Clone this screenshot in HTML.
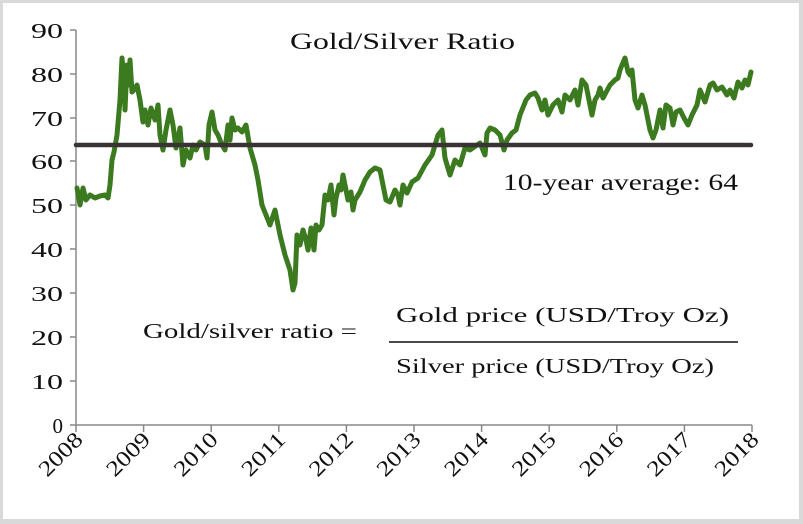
<!DOCTYPE html>
<html><head><meta charset="utf-8"><style>
html,body{margin:0;padding:0;background:#fff;}
svg{display:block;}
text{font-family:"Liberation Serif","DejaVu Serif",serif;fill:#111;}
</style></head><body>
<svg width="803" height="524" viewBox="0 0 803 524" xmlns="http://www.w3.org/2000/svg">
<rect x="0" y="0" width="803" height="524" fill="#d9d9d9"/>
<rect x="3" y="3" width="796" height="516" fill="#fff"/>
<g stroke="#888" stroke-width="1.5" fill="none">
<line x1="76" y1="30" x2="76" y2="425"/>
<line x1="76" y1="425" x2="752" y2="425"/>
<line x1="70" y1="30" x2="76" y2="30"/><line x1="70" y1="74" x2="76" y2="74"/><line x1="70" y1="118" x2="76" y2="118"/>
<line x1="70" y1="161" x2="76" y2="161"/><line x1="70" y1="205" x2="76" y2="205"/><line x1="70" y1="249" x2="76" y2="249"/>
<line x1="70" y1="293" x2="76" y2="293"/><line x1="70" y1="337" x2="76" y2="337"/><line x1="70" y1="381" x2="76" y2="381"/>
<line x1="70" y1="425" x2="76" y2="425"/>
<line x1="76" y1="425" x2="76" y2="432"/><line x1="143.6" y1="425" x2="143.6" y2="432"/><line x1="211.2" y1="425" x2="211.2" y2="432"/>
<line x1="278.8" y1="425" x2="278.8" y2="432"/><line x1="346.4" y1="425" x2="346.4" y2="432"/><line x1="414" y1="425" x2="414" y2="432"/>
<line x1="481.6" y1="425" x2="481.6" y2="432"/><line x1="549.2" y1="425" x2="549.2" y2="432"/><line x1="616.8" y1="425" x2="616.8" y2="432"/>
<line x1="684.4" y1="425" x2="684.4" y2="432"/><line x1="752" y1="425" x2="752" y2="432"/>
</g>
<g font-size="21" text-anchor="end">
<text x="63" y="38" textLength="32" lengthAdjust="spacingAndGlyphs">90</text><text x="63" y="82" textLength="32" lengthAdjust="spacingAndGlyphs">80</text><text x="63" y="126" textLength="32" lengthAdjust="spacingAndGlyphs">70</text><text x="63" y="169" textLength="32" lengthAdjust="spacingAndGlyphs">60</text>
<text x="63" y="213" textLength="32" lengthAdjust="spacingAndGlyphs">50</text><text x="63" y="257" textLength="32" lengthAdjust="spacingAndGlyphs">40</text><text x="63" y="301" textLength="32" lengthAdjust="spacingAndGlyphs">30</text><text x="63" y="345" textLength="32" lengthAdjust="spacingAndGlyphs">20</text>
<text x="63" y="389" textLength="32" lengthAdjust="spacingAndGlyphs">10</text><text x="63" y="433">0</text>
</g>
<g font-size="22" text-anchor="end">
<text transform="translate(84,441) rotate(-45)" textLength="52" lengthAdjust="spacingAndGlyphs">2008</text>
<text transform="translate(151.6,441) rotate(-45)" textLength="52" lengthAdjust="spacingAndGlyphs">2009</text>
<text transform="translate(219.2,441) rotate(-45)" textLength="52" lengthAdjust="spacingAndGlyphs">2010</text>
<text transform="translate(286.8,441) rotate(-45)" textLength="52" lengthAdjust="spacingAndGlyphs">2011</text>
<text transform="translate(354.4,441) rotate(-45)" textLength="52" lengthAdjust="spacingAndGlyphs">2012</text>
<text transform="translate(422,441) rotate(-45)" textLength="52" lengthAdjust="spacingAndGlyphs">2013</text>
<text transform="translate(489.6,441) rotate(-45)" textLength="52" lengthAdjust="spacingAndGlyphs">2014</text>
<text transform="translate(557.2,441) rotate(-45)" textLength="52" lengthAdjust="spacingAndGlyphs">2015</text>
<text transform="translate(624.8,441) rotate(-45)" textLength="52" lengthAdjust="spacingAndGlyphs">2016</text>
<text transform="translate(692.4,441) rotate(-45)" textLength="52" lengthAdjust="spacingAndGlyphs">2017</text>
<text transform="translate(760,441) rotate(-45)" textLength="52" lengthAdjust="spacingAndGlyphs">2018</text>
</g>
<polyline fill="none" stroke="#3b7a1f" stroke-width="5" stroke-linejoin="round" stroke-linecap="round" points="77,188 80,205 83,188 86,200 90,195 95,198 100,196 105,195 108,198 110,185 112,160 114,152 117,135 120,100 122,58 124,80 125,110 127,65 129,85 130,60 132,92 134,90 137,85 140,100 143,122 145,110 148,125 151,108 155,120 158,105 160,135 163,150 166,130 170,110 173,125 176,148 180,128 183,165 186,150 190,158 193,145 196,150 200,142 205,145 207,158 209,125 212,112 215,130 218,135 222,145 225,150 228,125 230,140 232,118 235,130 238,128 242,132 246,125 250,148 255,165 258,180 262,205 266,215 270,225 275,210 280,235 285,255 290,270 293,290 295,283 297,235 300,245 303,230 306,240 308,250 311,228 314,250 316,225 319,230 322,225 325,195 328,200 331,185 334,215 336,198 339,185 341,190 343,175 346,190 348,200 351,192 353,210 355,200 360,192 365,180 370,172 375,168 380,170 383,185 386,200 390,202 395,190 398,195 400,205 403,185 407,193 412,182 418,178 425,165 432,155 438,135 442,130 445,158 450,175 455,160 460,165 465,148 470,150 480,143 485,155 487,133 490,128 495,130 500,135 504,150 507,140 512,133 516,130 520,115 526,100 530,95 535,93 538,98 542,110 545,100 548,115 553,105 558,100 562,112 565,95 570,100 575,90 578,105 582,80 586,85 592,115 595,100 598,95 600,88 603,98 610,85 615,80 618,78 620,70 622,65 625,58 628,72 630,75 632,70 635,100 638,108 642,95 645,105 650,130 653,138 656,130 660,110 663,128 666,105 670,108 673,125 676,112 680,110 684,118 688,125 692,115 697,105 700,90 705,102 710,85 713,83 717,90 722,87 727,95 730,90 734,98 738,82 742,88 745,80 748,85 751,72"/>
<line x1="76" y1="145" x2="751" y2="145" stroke="#3a3333" stroke-width="4.5" stroke-linecap="round"/>
<text x="290" y="49" font-size="23" textLength="225" lengthAdjust="spacingAndGlyphs">Gold/Silver Ratio</text>
<text x="503" y="190" font-size="23" textLength="235" lengthAdjust="spacingAndGlyphs">10-year average: 64</text>
<text x="143" y="338" font-size="21" textLength="214" lengthAdjust="spacingAndGlyphs">Gold/silver ratio =</text>
<text x="396" y="322" font-size="21" textLength="333" lengthAdjust="spacingAndGlyphs">Gold price (USD/Troy Oz)</text>
<line x1="389" y1="342" x2="738" y2="342" stroke="#111" stroke-width="1.5"/>
<text x="396" y="373" font-size="21" textLength="318" lengthAdjust="spacingAndGlyphs">Silver price (USD/Troy Oz)</text>
</svg>
</body></html>
